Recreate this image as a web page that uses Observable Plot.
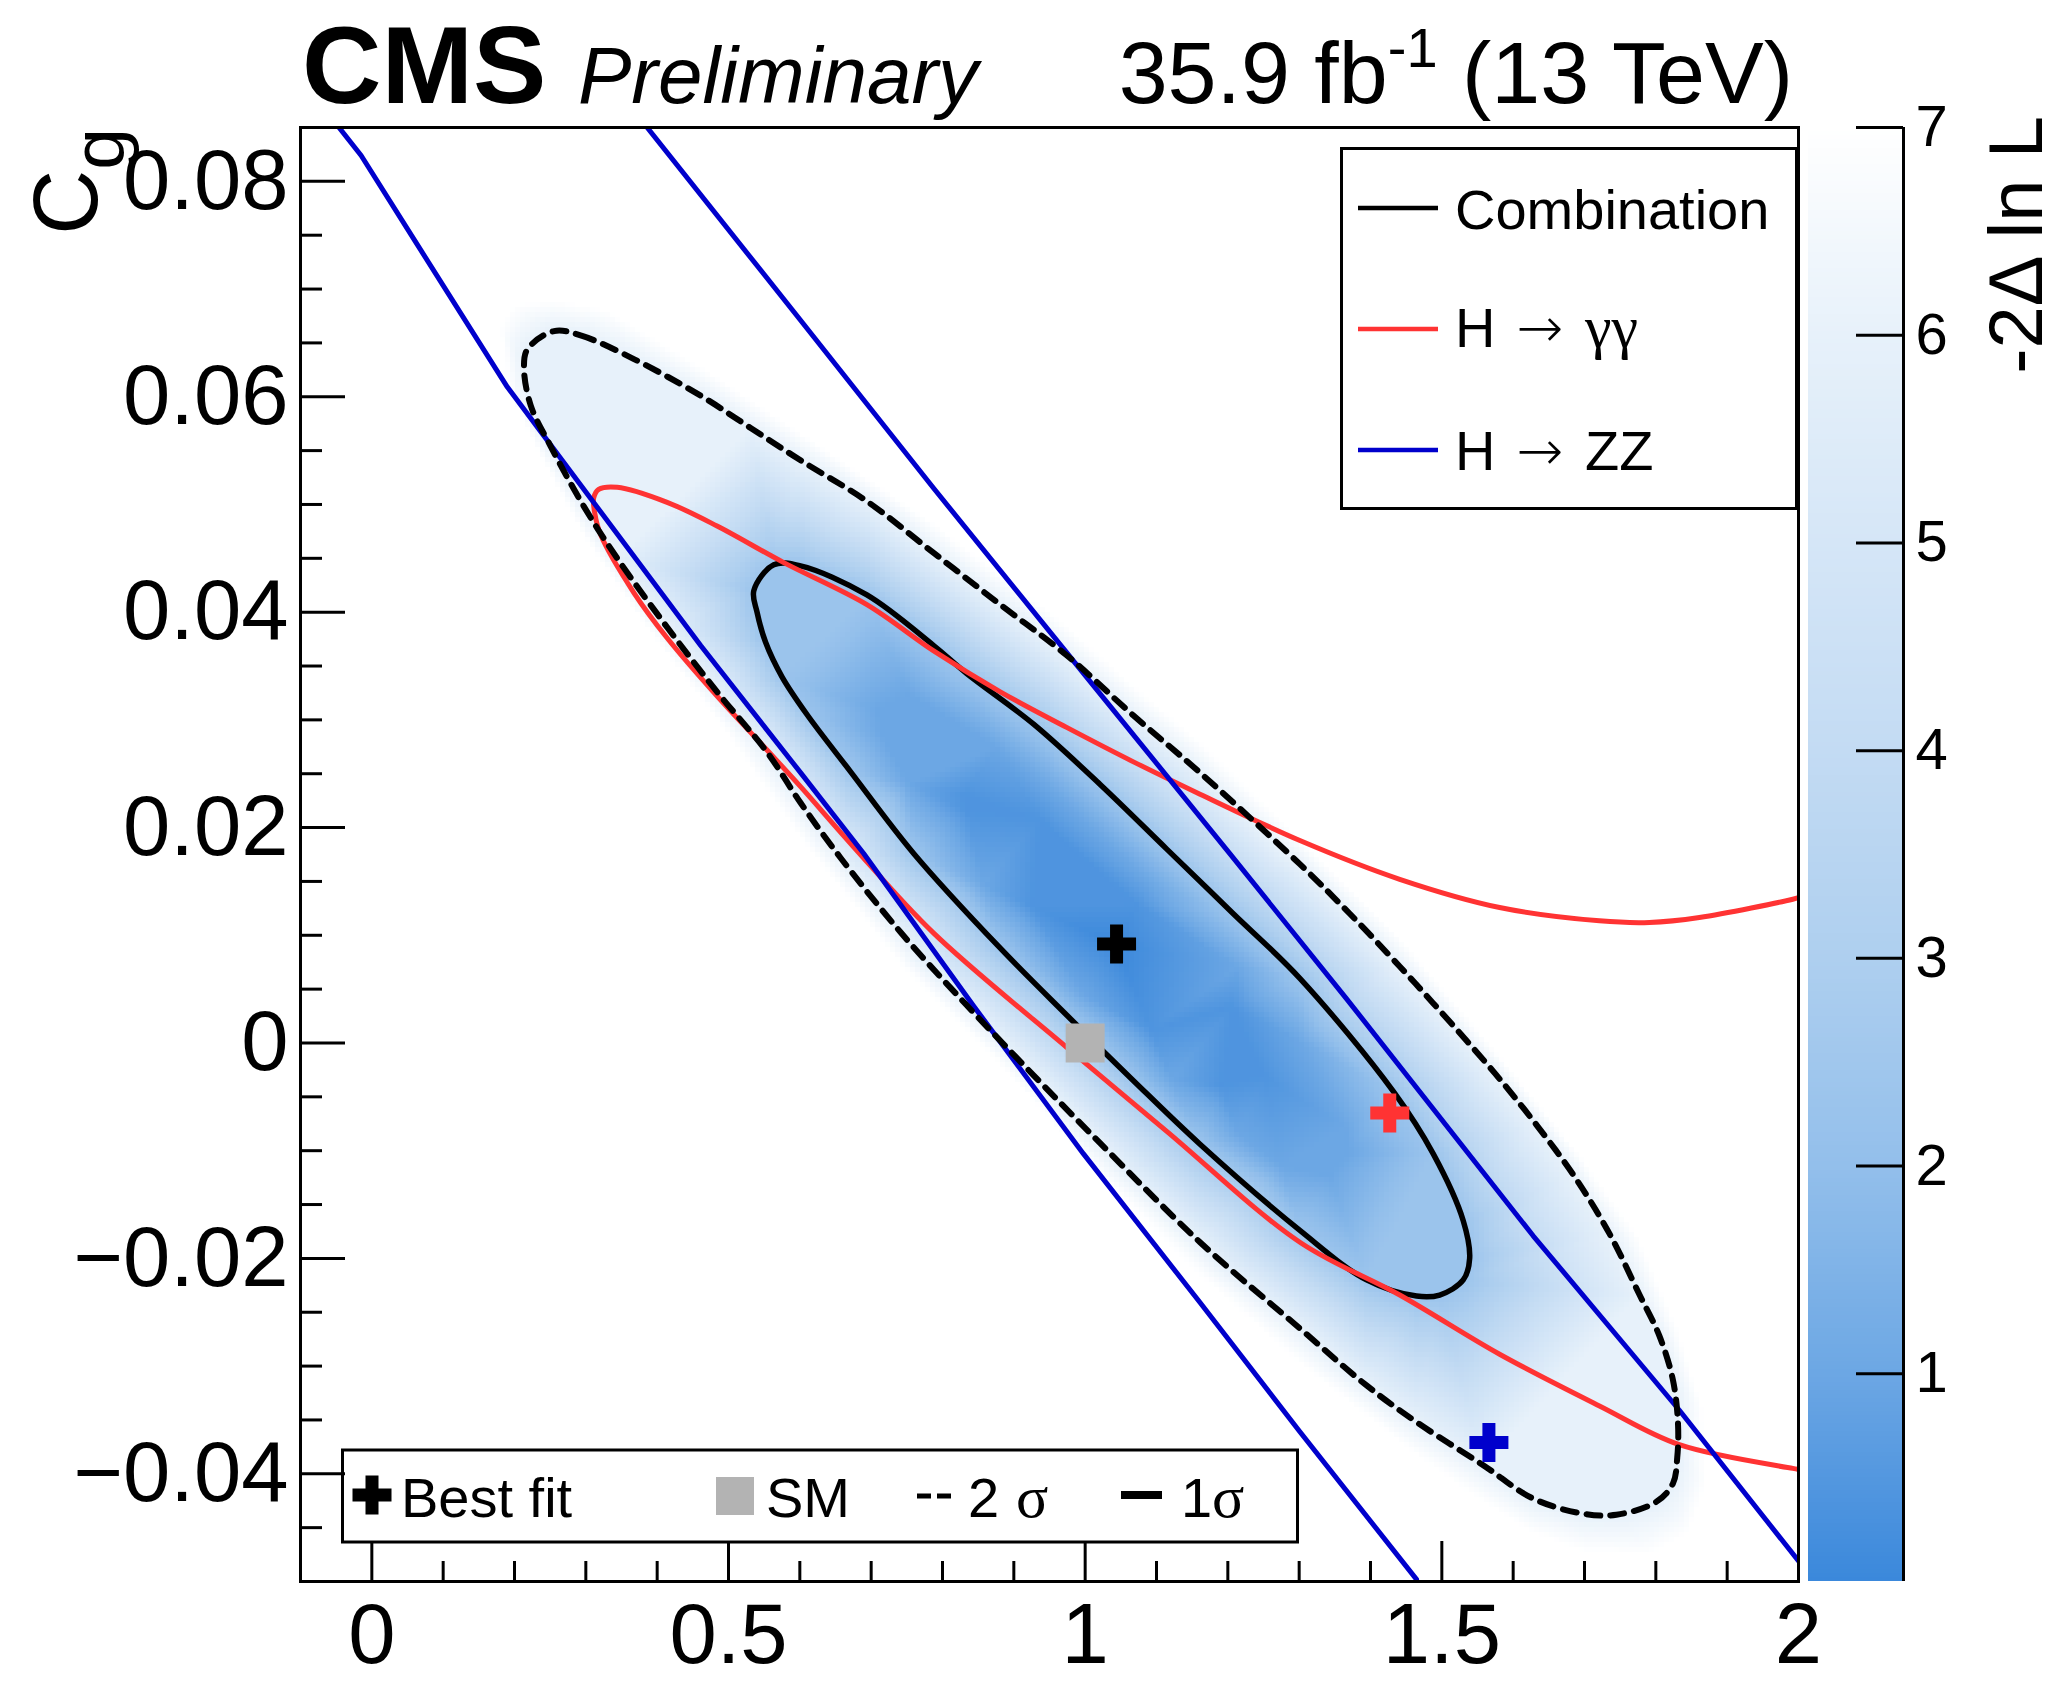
<!DOCTYPE html>
<html><head><meta charset="utf-8">
<script src="https://cdn.jsdelivr.net/npm/d3@7"></script>
<script src="https://cdn.jsdelivr.net/npm/@observablehq/plot@0.6"></script>
<style>
html,body{margin:0;padding:0;background:#fff;}
#wrap{position:relative;width:2059px;height:1681px;overflow:hidden;font-family:"Liberation Sans",Arial,Helvetica,sans-serif;}
#wrap > svg{position:absolute;top:0;}
</style></head><body><div id="wrap"></div>
<script>
// ---------------- data ----------------
const xDomain = [-0.1, 2];
const yDomain = [-0.05, 0.085];
const xTickValues = [0, 0.5, 1, 1.5, 2];
const xTickLabels = ["0", "0.5", "1", "1.5", "2"];
const xMinorTicks = [0.1,0.2,0.3,0.4,0.6,0.7,0.8,0.9,1.1,1.2,1.3,1.4,1.6,1.7,1.8,1.9];
const yTickValues = [-0.04, -0.02, 0, 0.02, 0.04, 0.06, 0.08];
const yTickLabels = ["\u22120.04", "\u22120.02", "0", "0.02", "0.04", "0.06", "0.08"];
const yMinorTicks = [-0.045,-0.035,-0.03,-0.025,-0.015,-0.01,-0.005,0.005,0.01,0.015,0.025,0.03,0.035,0.045,0.05,0.055,0.065,0.07,0.075];
const zTicks = [1, 2, 3, 4, 5, 6, 7];
const zColorStops = [0, 1, 2, 3, 4, 5, 6, 7];
const zColors = ["#3b88db", "#6ca7e4", "#93bfeb", "#aecfef", "#c3dbf3", "#d5e6f7", "#e7f1fa", "#ffffff"];

// levels of -2 Delta ln L
const levelCenter = 0, levelCore = 0.4, levelInner = 1.0, level1s = 2.30, level2s = 5.99, levelEdge = 7;

// Combination, 1 sigma (closed)
const comb1sigma = [[0.5355,0.0420],[0.5635,0.0444],[0.601,0.0443],[0.694,0.0416],[0.7876,0.0369],[0.834,0.0343],[0.9277,0.0296],[1.021,0.0240],[1.1144,0.0180],[1.2077,0.0120],[1.301,0.0060],[1.432,-0.0045],[1.488,-0.0103],[1.530,-0.0165],[1.539,-0.0200],[1.530,-0.0220],[1.497,-0.0234],[1.4645,-0.0235],[1.3945,-0.0220],[1.301,-0.0174],[1.161,-0.0094],[1.0677,-0.0035],[0.974,0.0026],[0.881,0.0088],[0.7596,0.0176],[0.671,0.0252],[0.610,0.0305],[0.575,0.0340],[0.552,0.0372],[0.540,0.0400]];
// Combination, 2 sigma (closed)
const comb2sigma = [[0.2554,0.0661],[0.2927,0.0657],[0.3674,0.0635],[0.461,0.0601],[0.531,0.0571],[0.601,0.0541],[0.694,0.0503],[0.7876,0.0455],[0.881,0.0407],[0.974,0.0360],[1.0677,0.0304],[1.161,0.0251],[1.301,0.0166],[1.371,0.0120],[1.441,0.0071],[1.4878,0.0037],[1.5742,-0.0028],[1.6326,-0.0076],[1.686,-0.0124],[1.735,-0.0177],[1.7773,-0.0234],[1.805,-0.0272],[1.824,-0.0313],[1.8311,-0.0354],[1.830,-0.0385],[1.824,-0.0409],[1.8007,-0.0426],[1.7447,-0.0438],[1.698,-0.0437],[1.628,-0.0423],[1.558,-0.0392],[1.4645,-0.0352],[1.3945,-0.0318],[1.301,-0.0265],[1.161,-0.0185],[1.021,-0.0093],[0.9277,-0.0030],[0.834,0.0035],[0.741,0.0103],[0.657,0.0172],[0.601,0.0223],[0.554,0.0270],[0.484,0.0326],[0.414,0.0386],[0.344,0.0450],[0.2974,0.0498],[0.2507,0.0554],[0.2227,0.0592],[0.2133,0.0627],[0.218,0.0644]];
// shading: inner iso-shade rings and the outer edge of the shaded surface
const shadeCore = [[0.830,0.0230],[0.936,0.0208],[1.0736,0.0129],[1.207,0.0034],[1.252,-0.0031],[1.191,-0.0039],[1.093,0.0012],[0.9245,0.0127],[0.834,0.0215]];
const shadeInner = [[0.708,0.0309],[0.752,0.0324],[0.875,0.0275],[0.967,0.0227],[1.0905,0.0150],[1.2136,0.0071],[1.300,0.0002],[1.3648,-0.0078],[1.3707,-0.0101],[1.343,-0.0123],[1.2753,-0.0114],[1.2136,-0.0084],[1.1212,-0.0034],[0.9978,0.0045],[0.8563,0.0147],[0.7516,0.0241],[0.7145,0.0286]];
const surfaceEdge = [[0.180,0.0665],[0.200,0.0685],[0.255,0.0690],[0.330,0.0680],[0.461,0.0628],[0.601,0.0566],[0.7876,0.0482],[0.974,0.0388],[1.068,0.0332],[1.161,0.0280],[1.301,0.0190],[1.441,0.0098],[1.581,-0.0012],[1.700,-0.0110],[1.775,-0.0180],[1.830,-0.0265],[1.865,-0.0340],[1.870,-0.0410],[1.845,-0.0455],[1.790,-0.0475],[1.700,-0.0472],[1.628,-0.0455],[1.545,-0.0420],[1.4645,-0.0382],[1.301,-0.0297],[1.161,-0.0215],[1.021,-0.0122],[0.880,-0.0020],[0.741,0.0073],[0.601,0.0190],[0.484,0.0300],[0.380,0.0390],[0.2974,0.0470],[0.240,0.0540],[0.195,0.0600]];
// H -> gamma gamma, 1 sigma (open on the right)
const gammaContour = [[2.0,-0.0396],[1.992,-0.0395],[1.833,-0.0373],[1.721,-0.0337],[1.581,-0.0289],[1.441,-0.0234],[1.301,-0.0185],[1.1144,-0.0082],[0.974,-0.0004],[0.7876,0.0102],[0.6755,0.0182],[0.601,0.0238],[0.554,0.0272],[0.484,0.0322],[0.414,0.0376],[0.3674,0.0418],[0.3207,0.0472],[0.3125,0.0492],[0.3110,0.0506],[0.3180,0.0514],[0.344,0.0516],[0.414,0.0502],[0.484,0.0480],[0.5775,0.0446],[0.694,0.0407],[0.7876,0.0364],[0.881,0.0326],[0.974,0.0293],[1.0677,0.0261],[1.161,0.0231],[1.301,0.0188],[1.441,0.0152],[1.581,0.01258],[1.721,0.01134],[1.791,0.01119],[1.861,0.01165],[1.992,0.01335],[2.0,0.0135]];
// H -> ZZ, 1 sigma (two branches crossing the frame)
const zzLowerBranch = [[-0.046,0.0850],[-0.015,0.0824],[0.064,0.0741],[0.190,0.0609],[0.461,0.0369],[0.601,0.0251],[0.6895,0.0176],[0.8436,0.00343],[0.9977,-0.0103],[1.161,-0.0241],[1.301,-0.0361],[1.4645,-0.0498]];
const zzUpperBranch = [[0.386,0.0850],[0.601,0.0671],[0.7876,0.0515],[0.998,0.0343],[1.2025,0.0176],[1.3665,0.0041],[1.628,-0.0179],[1.833,-0.0341],[2.0,-0.0481]];
// best fits and SM
const bestFits = [
  {name: "Combination", x: 1.044, y: 0.0092},
  {name: "Hgg", x: 1.427, y: -0.0065},
  {name: "HZZ", x: 1.566, y: -0.0371}
];
const smPoint = [{x: 1, y: 0}];

// ---------------- styling ----------------
const RED = "#ff3333", BLUE = "#0000cc", GRAY = "#b3b3b3";
const FONT = "'Liberation Sans', Arial, Helvetica, sans-serif";
const SERIF = "'Liberation Serif', 'DejaVu Serif', serif";
const colorSpec = {type: "linear", domain: zColorStops, range: zColors, clamp: true};

const W = 1800, H = 1681, mL = 300, mR = 2, mT = 127, mB = 100;
const frameW = W - mL - mR, frameH = H - mT - mB;

const comb = bestFits.find(d => d.name === "Combination");
const ring = (pts, v) => pts.map(p => ({x: p[0], y: p[1], v}));
const heat = [
  {x: comb.x, y: comb.y, v: levelCenter},
  ...ring(shadeCore, levelCore),
  ...ring(shadeInner, levelInner),
  ...ring(comb1sigma, level1s),
  ...ring(comb2sigma, level2s),
  ...ring(surfaceEdge, levelEdge)
];

const xTicksData = xTickValues.map((v, i) => ({v, label: xTickLabels[i]}));
const yTicksData = yTickValues.map((v, i) => ({v, label: yTickLabels[i]}));
const XY = {x: d => d[0], y: d => d[1]};

const main = Plot.plot({
  width: W, height: H,
  marginLeft: mL, marginRight: mR, marginTop: mT, marginBottom: mB,
  x: {domain: xDomain, axis: null},
  y: {domain: yDomain, axis: null},
  color: colorSpec,
  style: {fontFamily: FONT, background: "transparent", overflow: "visible"},
  marks: [
    Plot.raster(heat, {x: "x", y: "y", fill: "v", interpolate: "barycentric", pixelSize: 5, imageRendering: "pixelated"}),
    Plot.line(comb1sigma, {...XY, curve: "catmull-rom-closed", stroke: "#000", strokeWidth: 5.5, clip: true}),
    Plot.line(gammaContour, {...XY, curve: "catmull-rom", stroke: RED, strokeWidth: 5, clip: true}),
    Plot.line(zzLowerBranch, {...XY, curve: "linear", stroke: BLUE, strokeWidth: 5, clip: true}),
    Plot.line(zzUpperBranch, {...XY, curve: "linear", stroke: BLUE, strokeWidth: 5, clip: true}),
    Plot.line(comb2sigma, {...XY, curve: "catmull-rom-closed", stroke: "#000", strokeWidth: 6, strokeDasharray: "14,10", clip: true}),
    Plot.dot(smPoint, {x: "x", y: "y", symbol: "square", r: 22, fill: GRAY, stroke: "none"}),
    Plot.dot(bestFits, {filter: d => d.name === "Combination", x: "x", y: "y", symbol: "cross", r: 16.4, fill: "#000", stroke: "none"}),
    Plot.dot(bestFits, {filter: d => d.name === "Hgg", x: "x", y: "y", symbol: "cross", r: 16.4, fill: RED, stroke: "none"}),
    Plot.dot(bestFits, {filter: d => d.name === "HZZ", x: "x", y: "y", symbol: "cross", r: 16.4, fill: BLUE, stroke: "none"}),
    Plot.frame({stroke: "#000", strokeWidth: 3}),
    Plot.tickX(xTickValues, {x: d => d, insetTop: frameH - 40, stroke: "#000", strokeWidth: 3}),
    Plot.tickX(xMinorTicks, {x: d => d, insetTop: frameH - 20, stroke: "#000", strokeWidth: 3}),
    Plot.tickY(yTickValues, {y: d => d, insetRight: frameW - 45, stroke: "#000", strokeWidth: 3}),
    Plot.tickY(yMinorTicks, {y: d => d, insetRight: frameW - 22, stroke: "#000", strokeWidth: 3}),
    Plot.text(xTicksData, {x: "v", text: "label", frameAnchor: "bottom", dy: 21, lineAnchor: "top", fontSize: 85, fill: "#000"}),
    Plot.text(yTicksData, {y: "v", text: "label", frameAnchor: "left", dx: -12, textAnchor: "end", fontSize: 85, fill: "#000"})
  ]
});
main.style.left = "0px";

// ---------------- colour bar ----------------
const cbStep = 0.02;
const cbSteps = d3.range(0, 7, cbStep);
const cb = Plot.plot({
  width: 259, height: H,
  marginLeft: 8, marginRight: 156, marginTop: mT, marginBottom: mB,
  x: {domain: [0, 1], axis: null},
  y: {domain: [0, 7], axis: null},
  color: colorSpec,
  style: {fontFamily: FONT, background: "transparent", overflow: "visible"},
  marks: [
    Plot.rect(cbSteps, {y1: d => d, y2: d => Math.min(7, d + cbStep * 1.6), fill: d => d + cbStep / 2, shapeRendering: "crispEdges"}),
    Plot.ruleX([1], {stroke: "#000", strokeWidth: 3}),
    Plot.tickY(zTicks, {y: d => d, insetLeft: 95 - 47, stroke: "#000", strokeWidth: 3}),
    Plot.text(zTicks, {y: d => d, text: d => String(d), frameAnchor: "right", dx: 12, textAnchor: "start", fontSize: 58, fill: "#000"})
  ]
});
cb.style.left = "1800px";

// ---------------- overlay: header, axis titles, legends ----------------
const crossPath = d3.symbol(d3.symbolCross, 5 * 13 * 13)();
const overlay = `
<svg xmlns="http://www.w3.org/2000/svg" width="2059" height="1681" style="left:0;top:0;pointer-events:none" font-family="${FONT}" fill="#000">
  <text x="302" y="103" font-size="110" font-weight="bold">CMS</text>
  <text x="578" y="103" font-size="80" font-style="italic">Preliminary</text>
  <text x="1793" y="103" font-size="88" text-anchor="end">35.9 fb<tspan dy="-36" font-size="56">-1</tspan><tspan dy="36"> (13 TeV)</tspan></text>
  <text transform="translate(97,128) rotate(-90)" font-size="90" text-anchor="end">C<tspan dy="27" font-size="75">g</tspan></text>
  <text transform="translate(2042,116) rotate(-90)" font-size="76" text-anchor="end">-2\u0394 ln L</text>

  <rect x="1341.5" y="148.5" width="455" height="360" fill="#fff" stroke="#000" stroke-width="3"/>
  <line x1="1358" x2="1438" y1="208" y2="208" stroke="#000" stroke-width="4.5"/>
  <line x1="1358" x2="1438" y1="329" y2="329" stroke="${RED}" stroke-width="4.5"/>
  <line x1="1358" x2="1438" y1="450" y2="450" stroke="${BLUE}" stroke-width="4.5"/>
  <text x="1455" y="229" font-size="56">Combination</text>
  <text x="1455" y="347" font-size="56">H</text>
  <text x="1540" y="347" font-size="56" font-weight="200" text-anchor="middle" font-family="'DejaVu Sans', sans-serif">\u2192</text>
  <text x="1585" y="347" font-size="60" font-family="${SERIF}">\u03B3\u03B3</text>
  <text x="1455" y="470" font-size="56">H</text>
  <text x="1540" y="470" font-size="56" font-weight="200" text-anchor="middle" font-family="'DejaVu Sans', sans-serif">\u2192</text>
  <text x="1585" y="470" font-size="56">ZZ</text>

  <rect x="342.5" y="1450" width="955" height="92" fill="none" stroke="#000" stroke-width="3"/>
  <path d="${crossPath}" transform="translate(372,1495)" fill="#000"/>
  <text x="401" y="1517" font-size="56">Best fit</text>
  <rect x="716" y="1477" width="38" height="38" fill="${GRAY}"/>
  <text x="766" y="1517" font-size="56">SM</text>
  <line x1="917" x2="952" y1="1496" y2="1496" stroke="#000" stroke-width="5" stroke-dasharray="14,6"/>
  <text x="968" y="1517" font-size="56">2</text>
  <text x="1016" y="1517" font-size="60" font-family="${SERIF}">\u03C3</text>
  <line x1="1121" x2="1162" y1="1495" y2="1495" stroke="#000" stroke-width="8"/>
  <text x="1181" y="1517" font-size="56">1</text>
  <text x="1212" y="1517" font-size="60" font-family="${SERIF}">\u03C3</text>
</svg>`;

const wrap = document.getElementById("wrap");
wrap.appendChild(main);
wrap.appendChild(cb);
wrap.insertAdjacentHTML("beforeend", overlay);
</script>
</body></html>
